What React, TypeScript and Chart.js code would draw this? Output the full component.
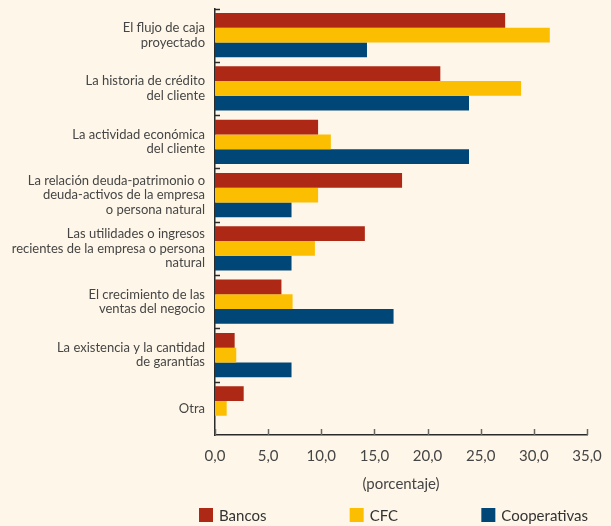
import React, { useEffect, useRef } from "react";
import { Chart, registerables } from "chart.js";

Chart.register(...registerables);

const categories: string[][] = [
  ["El flujo de caja", "proyectado"],
  ["La historia de crédito", "del cliente"],
  ["La actividad económica", "del cliente"],
  ["La relación deuda-patrimonio o", "deuda-activos de la empresa", "o persona natural"],
  ["Las utilidades o ingresos", "recientes de la empresa o persona", "natural"],
  ["El crecimiento de las", "ventas del negocio"],
  ["La existencia y la cantidad", "de garantías"],
  ["Otra"],
];

const bancos = [27.3, 21.2, 9.7, 17.6, 14.1, 6.25, 1.85, 2.7];
const cfc = [31.5, 28.8, 10.9, 9.7, 9.4, 7.3, 2.0, 1.1];
const cooperativas = [14.3, 23.9, 23.9, 7.2, 7.2, 16.8, 7.2, 0];

const xTicks = [0, 5, 10, 15, 20, 25, 30, 35];

const BG = "#FEF7E9";
const TEXT = "#454545";
const AXIS = "#2a2a2a";
const FONT = "Lato, 'Open Sans', sans-serif";

const tickPlugin = {
  id: "innerTicks",
  afterDraw(chart: any) {
    const { ctx, chartArea, scales } = chart;
    const x = scales.x;
    const y = scales.y;
    ctx.save();
    ctx.strokeStyle = AXIS;
    ctx.lineWidth = 1.5;
    for (let i = 0; i < categories.length; i++) {
      const py = Math.round(y.getPixelForValue(i - 0.5)) + 0.5;
      ctx.beginPath();
      ctx.moveTo(chartArea.left, py);
      ctx.lineTo(chartArea.left + 5, py);
      ctx.stroke();
    }
    ctx.strokeStyle = "#666";
    for (const v of xTicks) {
      const px = Math.round(x.getPixelForValue(v)) + 0.5;
      ctx.beginPath();
      ctx.moveTo(px, chartArea.bottom);
      ctx.lineTo(px, chartArea.bottom - 6);
      ctx.stroke();
    }
    const ds = chart.data.datasets;
    ctx.font = `15px ${FONT}`;
    ctx.textBaseline = "middle";
    ctx.textAlign = "left";
    const box = 14;
    const gapText = 6;
    const widths = ds.map((d: any) => box + gapText + ctx.measureText(d.label).width);
    const startX = chartArea.left - 16;
    const endX = chartArea.right + 1;
    const total = widths.reduce((a: number, b: number) => a + b, 0);
    const gap = (endX - startX - total) / (ds.length - 1);
    const ly = 515;
    let cx = startX;
    ds.forEach((d: any, i: number) => {
      ctx.fillStyle = d.backgroundColor;
      ctx.fillRect(cx, ly - box / 2, box, box);
      ctx.fillStyle = "#333";
      ctx.fillText(d.label, cx + box + gapText, ly + 1);
      cx += widths[i] + gap;
    });
    ctx.restore();
  },
};

export default function App() {
  const canvasRef = useRef<HTMLCanvasElement | null>(null);

  useEffect(() => {
    document.body.style.margin = "0";
    const canvas = canvasRef.current;
    if (!canvas) return;
    const chart = new Chart(canvas, {
      type: "bar",
      data: {
        labels: categories,
        datasets: [
          { label: "Bancos", data: bancos, backgroundColor: "#AE2915" },
          { label: "CFC", data: cfc, backgroundColor: "#FBBE00" },
          { label: "Cooperativas", data: cooperativas, backgroundColor: "#004677" },
        ],
      },
      options: {
        indexAxis: "y",
        animation: false,
        responsive: false,
        maintainAspectRatio: false,
        layout: { padding: { top: 8.5, right: 24, bottom: 30, left: 0 } },
        datasets: {
          bar: { categoryPercentage: 0.83, barPercentage: 1.0 },
        },
        plugins: {
          legend: { display: false },
          tooltip: { enabled: false },
        },
        scales: {
          x: {
            type: "linear",
            min: 0,
            max: 35,
            afterBuildTicks: (scale: any) => {
              scale.ticks = xTicks.map((v) => ({ value: v }));
            },
            afterFit: (scale: any) => {
              scale.height = 61;
              scale.paddingLeft = 0;
              scale.paddingRight = 0;
            },
            grid: { display: false, drawTicks: false },
            border: { display: true, color: AXIS, width: 1.5 },
            ticks: {
              padding: 12,
              color: TEXT,
              font: { family: FONT, size: 15 },
              maxRotation: 0,
              callback: (v: any) => Number(v).toFixed(1).replace(".", ","),
            },
            title: {
              display: true,
              text: "(porcentaje)",
              color: TEXT,
              font: { family: FONT, size: 15 },
              padding: { top: 0, bottom: 3 },
            },
          },
          y: {
            afterFit: (scale: any) => {
              scale.width = 215;
              scale.paddingTop = 0;
              scale.paddingBottom = 0;
            },
            grid: { display: false, drawTicks: false, offset: true },
            border: { display: true, color: AXIS, width: 1.5 },
            ticks: {
              padding: 10,
              color: TEXT,
              font: { family: FONT, size: 13, lineHeight: 1.12 },
              autoSkip: false,
            },
          },
        },
      },
      plugins: [tickPlugin],
    });
    return () => chart.destroy();
  }, []);

  return (
    <div style={{ width: 611, height: 526, background: BG }}>
      <canvas ref={canvasRef} width={611} height={526} style={{ display: "block" }} />
    </div>
  );
}
